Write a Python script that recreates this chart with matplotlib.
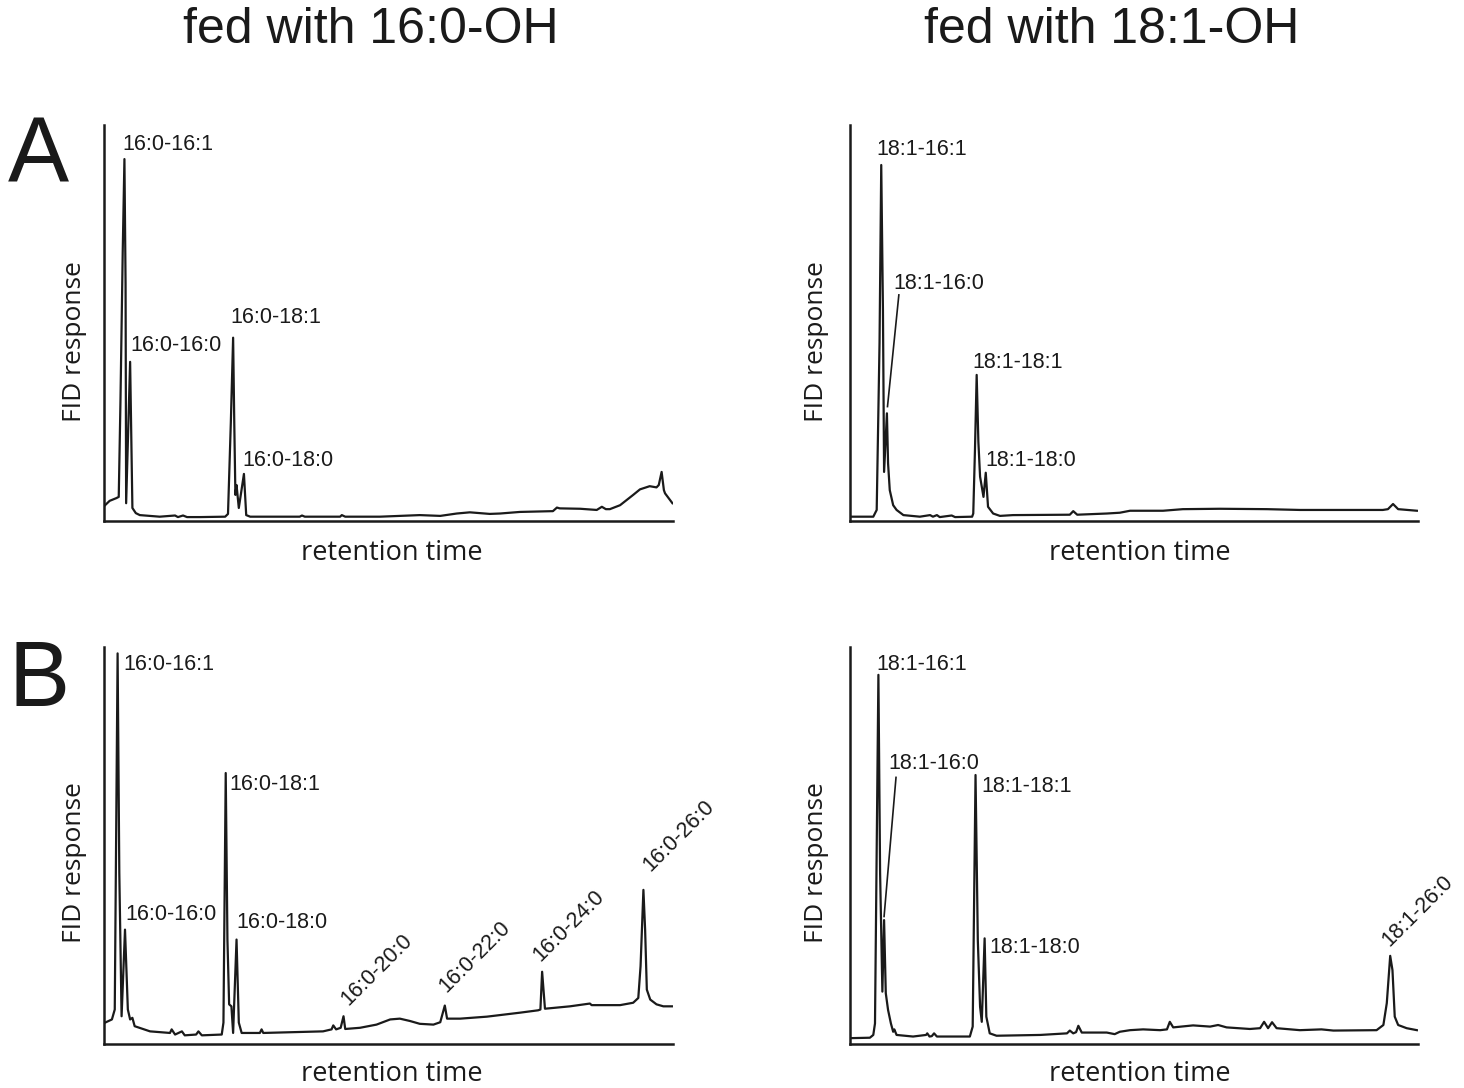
import matplotlib
matplotlib.use("Agg")
import matplotlib.pyplot as plt

# traces: retention time (0-100) vs FID response (0-100)
# panel A, fed with 16:0-OH
a1_time = [0.2, 1.0, 2.2, 2.6, 2.9, 3.3, 3.6, 3.8, 3.9, 4.6, 5.0, 5.6, 6.3, 9.8, 12.5, 13.0,
           13.9, 14.6, 16.9, 21.3, 21.8, 22.3, 22.7, 22.9, 23.1, 23.3, 23.7, 24.6, 25.0,
           25.7, 34.4, 34.8, 35.3, 41.5, 41.8, 42.4, 48.5, 55.5, 59.1, 62.0, 64.3, 67.8,
           69.6, 73.1, 78.9, 79.6, 80.1, 83.7, 86.6, 87.5, 88.2, 88.9, 90.7, 93.0, 94.2,
           95.9, 97.1, 97.5, 98.0, 98.4, 98.6, 99.9]
a1_fid = [4.0, 5.1, 5.8, 6.1, 30.0, 68.0, 91.4, 60.0, 4.5, 40.2, 3.3, 2.0, 1.5, 1.1, 1.4, 1.0,
          1.4, 1.0, 1.0, 1.1, 1.8, 25.0, 46.3, 25.0, 6.6, 9.1, 3.3, 11.9, 1.5,
          1.1, 1.1, 1.4, 1.1, 1.1, 1.5, 1.1, 1.1, 1.5, 1.3, 1.9, 2.2, 1.8,
          1.9, 2.3, 2.5, 3.4, 3.2, 3.1, 2.8, 3.6, 3.0, 3.0, 4.0, 6.6, 8.0,
          8.8, 8.5, 9.1, 12.4, 7.8, 7.0, 4.5]

# panel A, fed with 18:1-OH
a2_time = [0.3, 4.1, 4.7, 5.2, 5.5, 5.8, 6.0, 6.5, 6.7, 7.0, 7.6, 8.2, 9.4, 12.3, 14.1,
           14.6, 15.3, 15.8, 17.9, 18.5, 21.5, 21.7, 22.0, 22.3, 22.6, 22.9, 23.5, 23.9,
           24.3, 25.2, 26.4, 28.7, 38.7, 39.3, 40.0, 45.2, 47.5, 49.3, 55.1, 58.6, 65.1,
           73.4, 79.2, 93.8, 94.7, 95.6, 96.5, 99.8]
a2_fid = [1.1, 1.1, 2.8, 45.0, 89.9, 53.3, 12.4, 27.2, 14.6, 7.8, 4.0, 2.8, 1.5, 1.1, 1.5,
          1.1, 1.5, 1.0, 1.4, 1.0, 1.1, 1.9, 18.0, 36.9, 20.0, 11.2, 6.1, 12.2,
          3.6, 1.9, 1.3, 1.5, 1.6, 2.5, 1.6, 1.9, 2.1, 2.6, 2.6, 3.0, 3.1,
          3.0, 2.8, 2.8, 3.0, 4.3, 3.0, 2.6]

# panel B, fed with 16:0-OH
b1_time = [0.2, 1.4, 1.9, 2.4, 2.7, 3.1, 3.7, 4.2, 4.6, 5.0, 5.4, 8.1, 11.6, 11.9, 12.5,
           13.7, 14.2, 16.2, 16.6, 17.2, 20.7, 21.0, 21.4, 21.7, 22.0, 22.4, 22.7, 23.3,
           23.7, 24.2, 27.4, 27.7, 28.0, 38.5, 40.0, 40.3, 40.8, 41.6, 42.1, 42.4, 45.0,
           47.9, 50.3, 52.0, 53.8, 55.5, 57.9, 59.1, 59.9, 60.3, 62.6, 67.3, 70.2, 73.1,
           76.3, 76.7, 77.0, 77.5, 79.0, 81.9, 85.4, 85.7, 90.7, 93.0, 93.9, 94.3, 94.8,
           95.1, 95.4, 96.0, 97.1, 98.3, 99.8]
b1_fid = [5.5, 6.3, 8.8, 98.4, 43.2, 7.1, 28.9, 8.8, 6.3, 6.7, 4.6, 3.3, 2.9, 3.8, 2.5,
          3.3, 2.3, 2.5, 3.3, 2.3, 2.5, 5.5, 68.3, 26.4, 10.1, 9.6, 2.9, 26.4,
          5.5, 2.9, 2.9, 3.8, 2.9, 3.3, 3.8, 4.8, 3.8, 4.2, 7.1, 3.9, 4.2,
          5.0, 6.3, 6.5, 5.9, 5.2, 5.0, 5.6, 9.8, 6.5, 6.5, 7.0, 7.5, 8.0,
          8.6, 8.8, 18.3, 9.0, 9.2, 9.6, 10.3, 9.9, 9.9, 10.5, 11.7, 19.7, 38.9,
          28.9, 13.8, 11.3, 10.1, 9.6, 9.6]

# panel B, fed with 18:1-OH
b2_time = [0.3, 3.5, 4.1, 4.4, 5.0, 5.3, 5.7, 6.0, 6.3, 6.7, 7.2, 7.6, 7.8, 8.2, 11.1,
           13.4, 13.6, 14.0, 14.4, 14.8, 15.3, 21.1, 21.6, 22.1, 22.5, 22.9, 23.2, 23.7,
           24.0, 24.6, 25.8, 33.5, 38.2, 38.7, 39.3, 39.8, 40.2, 40.8, 45.2, 46.6, 47.5,
           49.3, 51.6, 54.6, 55.8, 56.3, 56.9, 60.4, 63.4, 64.8, 66.3, 70.4, 72.2, 72.9,
           73.6, 74.3, 75.1, 79.2, 83.0, 85.1, 92.7, 93.9, 94.5, 95.1, 95.5, 95.9, 96.5,
           98.0, 99.8]
b2_fid = [1.6, 1.7, 2.4, 5.3, 93.0, 43.1, 13.3, 31.3, 12.9, 8.7, 5.3, 3.2, 3.8, 2.4, 2.0,
          2.4, 2.8, 2.0, 2.1, 2.8, 2.0, 2.0, 4.5, 67.8, 26.3, 9.5, 5.7, 26.7,
          7.0, 2.8, 2.2, 2.4, 2.8, 3.5, 2.8, 3.1, 4.7, 3.0, 3.0, 2.6, 3.2,
          3.6, 3.8, 3.6, 3.8, 5.7, 4.3, 4.8, 4.5, 4.9, 4.3, 3.9, 4.1, 5.7,
          4.1, 5.6, 4.1, 3.6, 3.8, 3.5, 3.6, 4.9, 10.4, 22.3, 18.7, 7.0, 4.9,
          4.1, 3.6]

# peak labels: text, x, y, rotation
a1_labels = [("16:0-16:1", 3.2, 95.1, 0), ("16:0-16:0", 4.6, 44.4, 0),
             ("16:0-18:1", 22.3, 51.5, 0), ("16:0-18:0", 24.4, 15.4, 0)]
a2_labels = [("18:1-16:1", 4.6, 93.7, 0), ("18:1-16:0", 7.6, 60.0, 0),
             ("18:1-18:1", 21.5, 40.0, 0), ("18:1-18:0", 23.8, 15.3, 0)]
b1_labels = [("16:0-16:1", 3.4, 95.5, 0), ("16:0-16:0", 3.7, 32.6, 0),
             ("16:0-18:1", 22.1, 65.3, 0), ("16:0-18:0", 23.3, 30.8, 0),
             ("16:0-20:0", 43.0, 9.7, 45), ("16:0-22:0", 60.1, 12.9, 45),
             ("16:0-24:0", 76.7, 20.8, 45), ("16:0-26:0", 96.0, 43.5, 45)]
b2_labels = [("18:1-16:1", 4.6, 95.7, 0), ("18:1-16:0", 6.7, 70.8, 0),
             ("18:1-18:1", 23.2, 64.8, 0), ("18:1-18:0", 24.6, 24.5, 0),
             ("18:1-26:0", 95.0, 24.6, 45)]
# leader lines for the 18:1-16:0 shoulder
a2_leader = ([8.6, 6.6], [57.1, 28.9])
b2_leader = ([8.1, 6.0], [67.2, 32.2])

titles = ["fed with 16:0-OH", "fed with 18:1-OH"]

ARIAL = ["Liberation Sans", "DejaVu Sans"]
CALIBRI = ["Open Sans", "DejaVu Sans"]
INK = "#1a1a1a"

fig = plt.figure(figsize=(14.64, 10.88), dpi=100)


def draw_panel(rect, t, fid, labels, leader=None):
    ax = fig.add_axes(rect)
    ax.plot(t, fid, color=INK, lw=1.6)
    if leader is not None:
        ax.plot(leader[0], leader[1], color=INK, lw=1.2)
    for txt, x, y, rot in labels:
        if rot == 0:
            ax.text(x, y, txt, ha="left", va="center", fontsize=15.5,
                    family=ARIAL, color=INK)
        else:
            ax.text(x, y, txt, ha="left", va="baseline", rotation=rot,
                    rotation_mode="anchor", fontsize=15.5, family=ARIAL,
                    color=INK, clip_on=False)
    ax.set_xlim(0, 100)
    ax.set_ylim(0, 100)
    for s in ["top", "right"]:
        ax.spines[s].set_visible(False)
    for s in ["left", "bottom"]:
        ax.spines[s].set_linewidth(1.8)
        ax.spines[s].set_color(INK)
    ax.set_xticks([])
    ax.set_yticks([])
    ax.patch.set_alpha(0)
    return ax


draw_panel([0.0710, 0.5211, 0.3887, 0.3640], a1_time, a1_fid, a1_labels)
draw_panel([0.5806, 0.5211, 0.3880, 0.3640], a2_time, a2_fid, a2_labels, a2_leader)
draw_panel([0.0710, 0.0400, 0.3887, 0.3653], b1_time, b1_fid, b1_labels)
draw_panel([0.5806, 0.0400, 0.3880, 0.3653], b2_time, b2_fid, b2_labels, b2_leader)

# column titles
fig.text(0.2534, 0.9724, titles[0], ha="center", va="center", fontsize=36,
         family=ARIAL, color=INK)
fig.text(0.7596, 0.9724, titles[1], ha="center", va="center", fontsize=36,
         family=ARIAL, color=INK)

# panel letters
fig.text(0.0055, 0.8543, "A", ha="left", va="center", fontsize=66, family=ARIAL, color=INK)
fig.text(0.0055, 0.3732, "B", ha="left", va="center", fontsize=66, family=ARIAL, color=INK)

# axis labels
for xl in [0.0512, 0.558]:
    for yc in [0.6857, 0.2068]:
        fig.text(xl, yc, "FID response", rotation=90, ha="center", va="center",
                 fontsize=19, family=CALIBRI, color=INK)
for xc in [0.2678, 0.7787]:
    for yc in [0.4917, 0.0129]:
        fig.text(xc, yc, "retention time", ha="center", va="center",
                 fontsize=19.5, family=CALIBRI, color=INK)

fig.savefig("out.png", dpi=100)
